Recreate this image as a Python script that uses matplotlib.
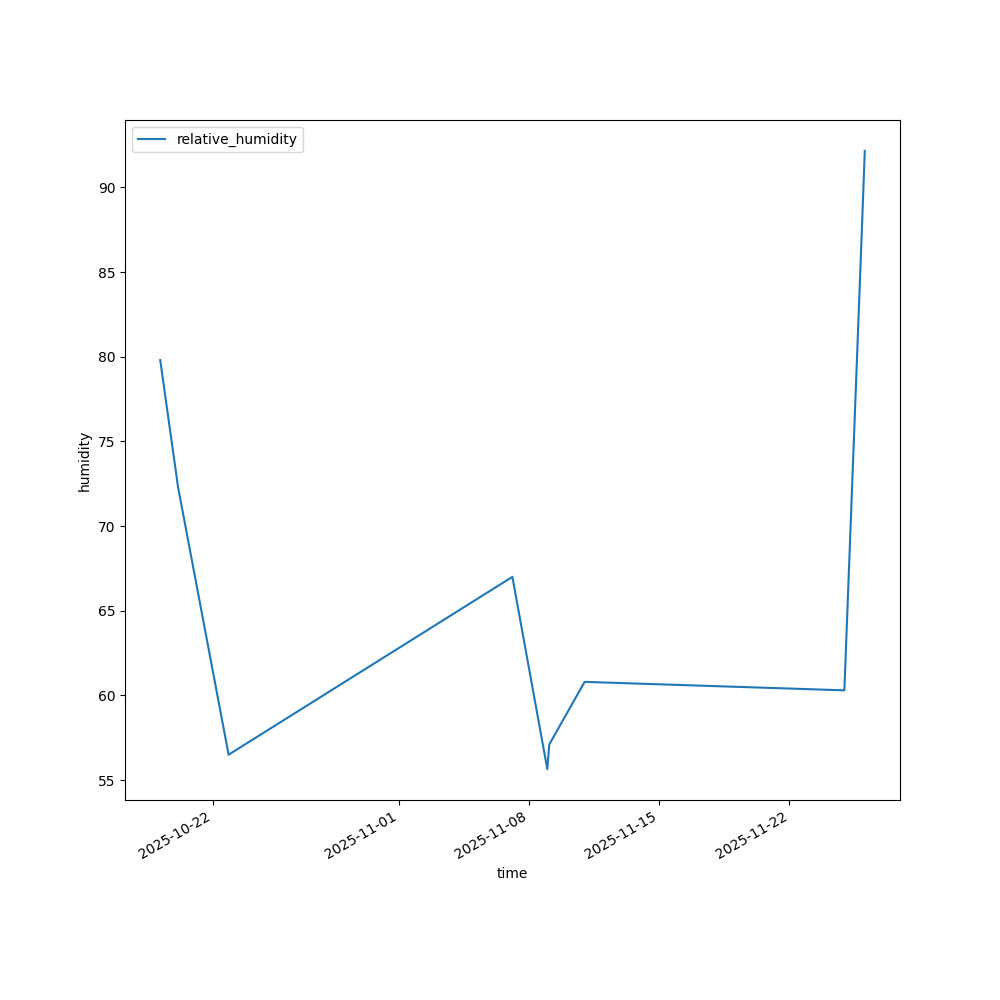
import matplotlib
matplotlib.use("Agg")
import matplotlib.pyplot as plt
import pandas as pd

times = pd.to_datetime([
    "2025-10-19 04:00", "2025-10-20 03:00", "2025-10-22 20:15",
    "2025-11-07 02:25", "2025-11-08 23:30", "2025-11-09 02:00",
    "2025-11-10 23:40", "2025-11-24 22:50", "2025-11-25 22:00",
    "2025-11-26 01:10",
])
relative_humidity = [79.8, 72.3, 56.5, 67.0, 55.65, 57.1, 60.8, 60.3, 88.2, 92.15]

fig, ax = plt.subplots(figsize=(10, 10), dpi=100)
ax.plot(times, relative_humidity, color="#1f77b4", label="relative_humidity")
ax.set_xlabel("time")
ax.set_ylabel("humidity")
ax.legend(loc="upper left")
fig.autofmt_xdate()
fig.savefig("out.png", dpi=100)
